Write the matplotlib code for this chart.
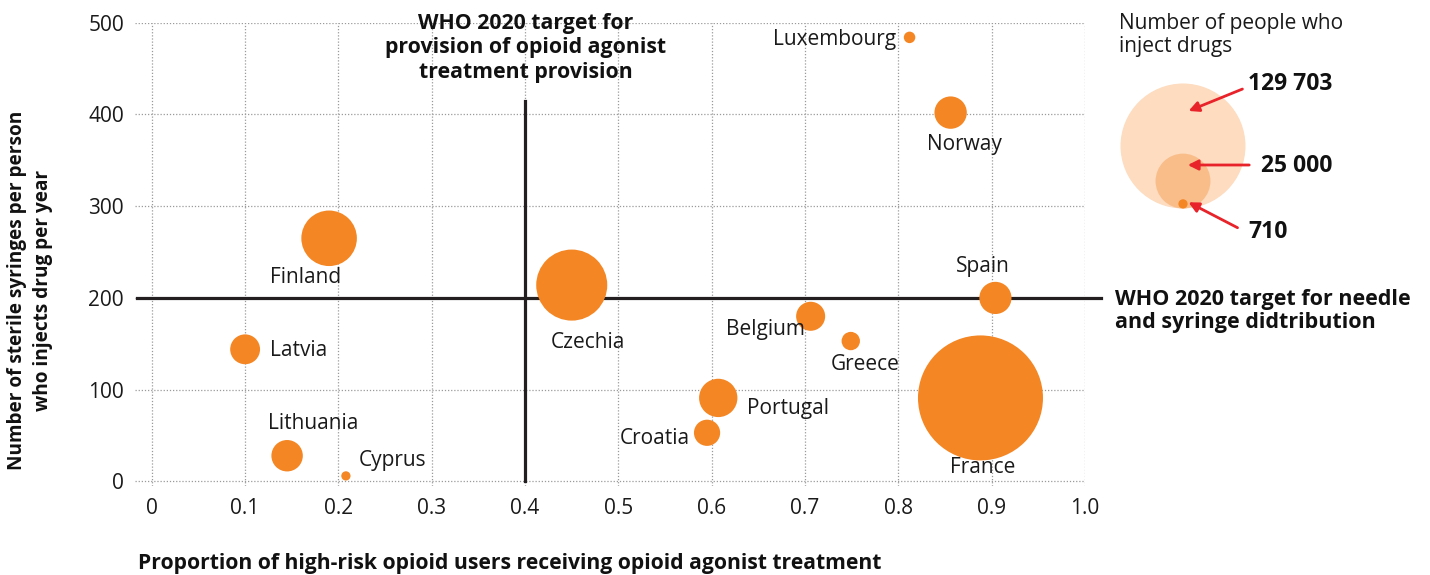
import matplotlib
matplotlib.use("Agg")
import matplotlib.pyplot as plt
import numpy as np

# ---- data ----
countries = ["Luxembourg", "Norway", "Finland", "Spain", "Czechia", "Belgium",
             "Greece", "Latvia", "Portugal", "Croatia", "France", "Lithuania", "Cyprus"]
oat_share = [0.812, 0.856, 0.190, 0.904, 0.450, 0.706, 0.749, 0.100, 0.607, 0.595, 0.888, 0.145, 0.208]
syringes = [484, 402, 265, 200, 214, 180, 153, 144, 91, 53, 91, 28, 6]
pwid = [1100, 8700, 25600, 8600, 41900, 7000, 2800, 7400, 12200, 5700, 129703, 8200, 710]

legend_values = [129703, 25000, 710]
legend_labels = ["129 703", "25 000", "710"]

x_ticks = [0, 0.1, 0.2, 0.3, 0.4, 0.5, 0.6, 0.7, 0.8, 0.9, 1.0]
x_tick_labels = ["0", "0.1", "0.2", "0.3", "0.4", "0.5", "0.6", "0.7", "0.8", "0.9", "1.0"]
y_ticks = [0, 100, 200, 300, 400, 500]

who_oat_target = 0.4
who_nsp_target = 200

# ---- style ----
FONT = "Open Sans"
plt.rcParams["font.family"] = [FONT, "DejaVu Sans"]
ORANGE = "#F48624"
DARK = "#231F20"
RED = "#E8232A"
W, H = 1430, 575
MAX_S = 8100.0  # marker area (pt^2) for the largest value

def size_of(v):
    return np.asarray(v, dtype=float) / max(legend_values) * MAX_S

# label offsets in pixels (dx, dy, ha)
label_pos = {
    "Luxembourg": (-13, -2, "right"),
    "Norway": (14, -32, "center"),
    "Finland": (-24, -39, "center"),
    "Spain": (-13, 31, "center"),
    "Czechia": (16, -57, "center"),
    "Belgium": (-45, -13, "center"),
    "Greece": (14, -23, "center"),
    "Latvia": (25, -1, "left"),
    "Portugal": (29, -11, "left"),
    "Croatia": (-17, -6, "right"),
    "France": (2, -70, "center"),
    "Lithuania": (26, 32, "center"),
    "Cyprus": (13, 15, "left"),
}

fig = plt.figure(figsize=(W / 100, H / 100), dpi=100)
ax = fig.add_axes([135 / W, 1 - 486 / H, 950 / W, (486 - 22.7) / H])
ax.set_xlim(-0.018, 1.0)
ax.set_ylim(-5, 500)
for s in ax.spines.values():
    s.set_visible(False)
ax.set_xticks(x_ticks)
ax.set_xticklabels(x_tick_labels)
ax.set_yticks(y_ticks)
ax.tick_params(length=0, labelsize=15, colors="#1a1a1a")
ax.tick_params(axis="x", pad=9)
ax.tick_params(axis="y", pad=8)
ax.grid(True, linestyle=(0, (1, 1.5)), color="#9a9a9a", linewidth=0.9)
ax.set_axisbelow(True)

# target lines
ax.plot([-0.016, 1.017], [who_nsp_target, who_nsp_target], color=DARK, lw=2.3, zorder=2, clip_on=False)
ax.plot([who_oat_target, who_oat_target], [0, 415], color=DARK, lw=2.3, zorder=2, clip_on=False)

ax.scatter(oat_share, syringes, s=size_of(pwid), color=ORANGE, edgecolors="none", zorder=3, clip_on=False)

for c, x, y in zip(countries, oat_share, syringes):
    dx, dy, ha = label_pos[c]
    ax.annotate(c, (x, y), xytext=(dx, dy), textcoords="offset pixels",
                ha=ha, va="center", fontsize=15, color="#1a1a1a", zorder=4)

# annotations for targets
fig.text(526 / W, 1 - 48 / H, "WHO 2020 target for\nprovision of opioid agonist\ntreatment provision",
         ha="center", va="center", fontsize=15.3, fontweight="bold", color="#111111", linespacing=1.22)
fig.text(1115 / W, 1 - 311 / H, "WHO 2020 target for needle\nand syringe didtribution",
         ha="left", va="center", fontsize=15.5, fontweight="bold", color="#111111", linespacing=1.18)

# axis titles
fig.text(138 / W, 1 - 563 / H, "Proportion of high-risk opioid users receiving opioid agonist treatment",
         ha="left", va="center", fontsize=15.2, fontweight="bold", color="#111111")
fig.text(30 / W, 1 - 290 / H, "Number of sterile syringes per person\nwho injects drug per year",
         ha="center", va="center", rotation=90, fontsize=13.7, fontweight="bold",
         color="#111111", linespacing=1.4, multialignment="center")

# ---- size legend (overlay in pixel coordinates) ----
lax = fig.add_axes([0, 0, 1, 1])
lax.set_xlim(0, W)
lax.set_ylim(H, 0)
lax.axis("off")
lax.patch.set_alpha(0)

fig.text(1119 / W, 1 - 35 / H, "Number of people who\ninject drugs", ha="left", va="center",
         fontsize=15, color="#1a1a1a", linespacing=1.18)

leg_colors = ["#FDDCC0", "#F9BD8A", ORANGE]
leg_bottom = 208.5
leg_cx = 1183
for v, col in zip(legend_values, leg_colors):
    r_px = np.sqrt(size_of(v)) * 100 / 72 / 2
    lax.scatter([leg_cx], [leg_bottom - r_px], s=size_of(v), color=col, edgecolors="none", zorder=2)

arrow_specs = [((1245, 88), (1186, 112), (1248, 84)),
               ((1252, 165), (1185, 165), (1261, 166)),
               ((1240, 229), (1186, 201), (1248, 232))]
for lab, (start, end, tpos) in zip(legend_labels, arrow_specs):
    lax.annotate("", xy=end, xytext=start,
                 arrowprops=dict(arrowstyle="-|>,head_length=0.6,head_width=0.3", color=RED, lw=2))
    lax.text(tpos[0], tpos[1], lab, ha="left", va="center", fontsize=16.5,
             fontweight="bold", color="#111111")

fig.savefig("out.png", dpi=100)
